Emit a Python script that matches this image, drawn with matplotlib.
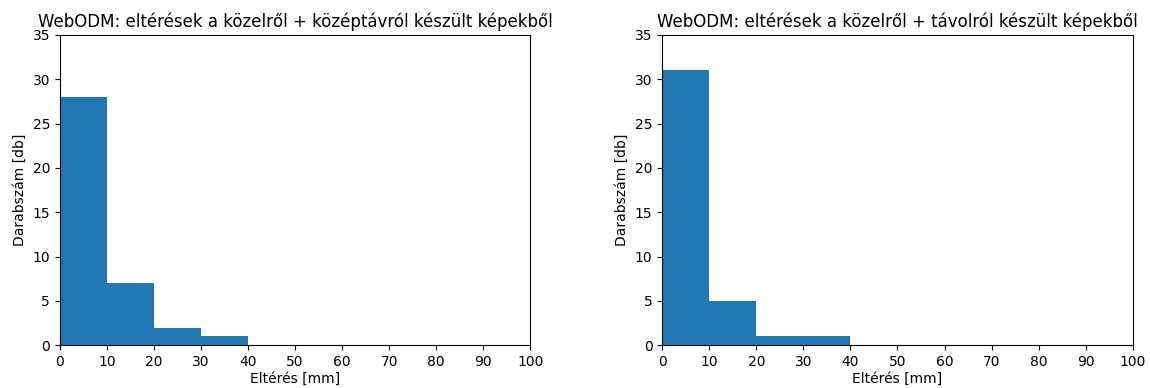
import numpy as np
import matplotlib
matplotlib.use("Agg")
import matplotlib.pyplot as plt

# Histogram bins (mm) and counts
bin_edges = [0, 10, 20, 30, 40, 50, 60, 70, 80, 90, 100]
counts_mid = [28, 7, 2, 1, 0, 0, 0, 0, 0, 0]
counts_far = [31, 5, 1, 1, 0, 0, 0, 0, 0, 0]

titles = [
    "WebODM: eltérések a közelről + középtávról készült képekből",
    "WebODM: eltérések a közelről + távolról készült képekből",
]

fig, axes = plt.subplots(1, 2, figsize=(11.5, 3.88), dpi=100)

for ax, counts, title in zip(axes, [counts_mid, counts_far], titles):
    ax.hist(bin_edges[:-1], bins=bin_edges, weights=counts, color="#1f77b4")
    ax.set_xlim(0, 100)
    ax.set_ylim(0, 35)
    ax.set_xticks(np.arange(0, 101, 10))
    ax.set_title(title, fontsize=12, pad=6)
    ax.set_xlabel("Eltérés [mm]", labelpad=2)
    ax.set_ylabel("Darabszám [db]")

plt.subplots_adjust(left=0.052, right=0.985, top=0.91, bottom=0.11, wspace=0.28)
plt.savefig("out.png")
